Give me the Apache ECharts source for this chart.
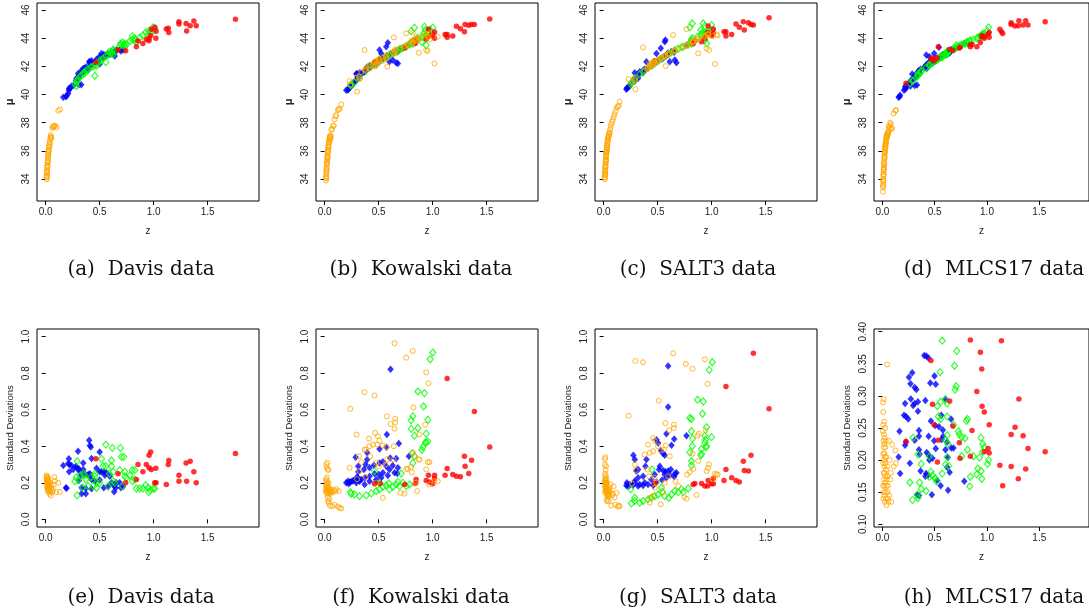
<!DOCTYPE html>
<html><head><meta charset="utf-8">
<script src="https://cdn.jsdelivr.net/npm/echarts@6/dist/echarts.min.js"></script>
<style>html,body{margin:0;padding:0;background:#fff;}#c{width:1089px;height:614px;}</style>
</head><body><div id="c"></div>
<script>
// ---------------- DATA ----------------
// Davis
const davisOrangeZ=[0.009,0.010,0.011,0.012,0.012,0.013,0.014,0.015,0.015,0.016,
0.017,0.018,0.019,0.020,0.021,0.022,0.023,0.024,0.025,0.026,
0.028,0.030,0.031,0.033,0.035,0.038,0.040,0.042,0.045,0.048,
0.050,0.053,0.062,0.068,0.074,0.080,0.086,0.100,0.117,0.132];
const davisOrangeMu=[33.98,34.10,34.25,34.17,34.40,34.55,34.50,34.64,34.80,34.95,
34.88,35.12,35.20,35.35,35.25,35.50,35.60,35.78,35.72,35.90,
36.06,36.00,36.25,36.41,36.30,36.65,36.50,36.80,36.95,37.12,
37.00,36.90,37.62,37.70,37.74,37.76,37.79,37.68,38.85,38.95];
const davisOrangeSd=[0.240,0.230,0.220,0.210,0.235,0.200,0.190,0.225,0.180,0.215,
0.170,0.205,0.195,0.160,0.185,0.225,0.175,0.150,0.210,0.165,
0.190,0.200,0.155,0.180,0.170,0.140,0.160,0.200,0.150,0.130,
0.185,0.170,0.150,0.160,0.190,0.231,0.209,0.149,0.200,0.150];

const davisBlueZ=[0.163,0.188,0.194,0.209,0.215,0.218,0.220,0.240,0.255,0.280,
0.286,0.300,0.308,0.310,0.310,0.330,0.332,0.332,0.348,0.348,
0.363,0.372,0.372,0.394,0.403,0.409,0.409,0.410,0.418,0.425,
0.425,0.425,0.455,0.471,0.500,0.500,0.500,0.517,0.538,0.538,
0.548,0.563,0.578,0.594,0.609,0.634,0.634,0.640,0.649,0.655,
0.686,0.697,0.717];
const davisBlueMu=[39.80,39.85,39.92,40.08,40.30,40.45,40.40,40.60,40.62,41.00,
41.15,41.50,40.70,41.35,41.20,40.70,41.55,41.70,41.85,41.60,
41.85,41.80,41.95,41.74,42.33,42.20,42.35,42.00,42.10,42.25,
42.15,42.40,42.30,42.50,42.17,42.55,42.70,42.92,42.85,42.60,
42.75,42.80,42.90,42.85,43.00,42.95,43.10,42.73,43.05,43.16,
43.20,43.10,43.16];
const davisBlueSd=[0.295,0.173,0.170,0.305,0.331,0.260,0.300,0.295,0.273,0.290,
0.285,0.373,0.213,0.276,0.264,0.240,0.173,0.140,0.273,0.309,
0.250,0.169,0.140,0.245,0.433,0.404,0.236,0.250,0.396,0.333,
0.218,0.167,0.209,0.280,0.369,0.260,0.215,0.260,0.260,0.173,
0.242,0.255,0.178,0.236,0.200,0.182,0.151,0.190,0.173,0.200,
0.200,0.173,0.180];

const davisGreenZ=[0.271,0.285,0.292,0.292,0.300,0.320,0.342,0.350,0.363,0.372,
0.394,0.420,0.440,0.455,0.455,0.471,0.471,0.500,0.517,0.532,
0.557,0.557,0.578,0.590,0.609,0.609,0.618,0.625,0.625,0.640,
0.686,0.692,0.702,0.711,0.723,0.732,0.732,0.748,0.780,0.803,
0.803,0.825,0.825,0.840,0.871,0.900,0.926,0.948,0.954,0.994,1.010,0.970];
const davisGreenMu=[40.75,40.60,40.90,41.00,41.10,41.30,41.40,41.55,41.50,41.70,
41.80,41.95,42.00,41.33,42.10,42.20,42.05,42.40,42.45,42.55,
42.30,42.75,42.80,43.05,42.90,43.00,43.10,43.20,42.85,43.10,
43.45,43.60,43.55,43.70,43.50,43.40,43.60,43.55,43.80,43.90,
44.15,43.85,44.00,43.70,44.05,44.20,44.41,44.30,44.50,44.77,44.70,44.35];
const davisGreenSd=[0.209,0.230,0.318,0.131,0.215,0.240,0.173,0.250,0.242,0.218,
0.182,0.230,0.182,0.236,0.250,0.200,0.173,0.200,0.331,0.291,
0.409,0.291,0.182,0.250,0.322,0.291,0.391,0.260,0.209,0.200,
0.269,0.391,0.342,0.182,0.342,0.260,0.236,0.227,0.240,0.269,
0.209,0.269,0.218,0.169,0.169,0.169,0.187,0.173,0.149,0.169,0.169,0.160];

const davisRedZ=[1.757,1.338,1.300,1.372,1.234,1.234,1.305,1.394,1.140,1.135,
1.117,1.020,1.022,1.010,0.972,0.957,0.932,0.957,0.978,0.900,
0.855,0.840,0.741,0.670,0.465];
const davisRedMu=[45.34,44.89,45.05,45.22,45.17,45.00,44.51,44.89,44.41,44.70,
44.65,43.99,44.50,44.77,44.20,43.99,43.90,43.82,44.63,43.63,
43.80,43.40,43.11,43.16,42.30];
const davisRedSd=[0.360,0.318,0.309,0.260,0.242,0.209,0.209,0.200,0.322,0.300,
0.191,0.280,0.200,0.200,0.369,0.351,0.300,0.282,0.273,0.260,
0.300,0.218,0.200,0.250,0.331];

// Kowalski
const kowOrangeZ=[0.012,0.013,0.014,0.015,0.015,0.016,0.017,0.018,0.019,0.020,
0.021,0.022,0.023,0.024,0.025,0.026,0.027,0.028,0.029,0.030,
0.031,0.032,0.034,0.035,0.037,0.038,0.040,0.042,0.044,0.046,
0.048,0.050,0.052,0.055,0.058,0.062,
0.070,0.077,0.085,0.092,0.100,0.108,0.123,0.130,0.139,0.154,
0.231,0.237,0.296,0.300,0.317,0.323,0.339,0.370,0.370,0.379,
0.385,0.410,0.416,0.422,0.447,0.462,0.468,0.478,0.478,0.487,
0.493,0.502,0.508,0.539,0.539,0.564,0.570,0.576,0.580,0.610,
0.638,0.640,0.647,0.647,0.653,0.653,0.702,0.740,0.755,0.755,
0.770,0.801,0.807,0.816,0.816,0.822,0.832,0.847,0.856,0.872,
0.877,0.877,0.930,0.940,0.940,0.955,0.961,0.970,0.970,1.017,1.047];
const kowOrangeMu=[33.90,34.10,34.20,34.35,34.05,34.50,34.60,34.80,34.70,35.00,
35.10,35.25,35.15,35.40,35.55,35.50,35.70,35.85,35.60,35.95,
36.10,36.00,36.30,36.40,36.25,36.50,36.70,36.60,36.85,36.90,
37.00,36.95,37.10,36.80,37.05,37.50,
37.55,37.76,37.80,38.24,38.45,38.55,38.90,38.95,39.00,39.30,
40.96,40.70,41.20,40.20,41.30,41.10,41.60,43.16,41.70,41.80,
41.90,42.00,41.85,42.10,42.05,42.30,42.00,42.20,42.40,42.15,
42.35,42.50,42.45,42.60,42.40,42.70,42.55,42.80,41.98,42.90,
43.00,44.06,43.10,42.90,43.20,43.05,43.30,43.40,44.34,43.50,
43.55,43.80,43.60,43.70,44.40,43.75,43.90,43.85,44.10,42.97,
44.00,43.95,44.20,43.16,44.30,43.10,44.10,44.35,43.90,42.21,44.10];
const kowOrangeSd=[0.150,0.220,0.180,0.160,0.300,0.210,0.170,0.190,0.285,0.200,
0.140,0.230,0.175,0.160,0.310,0.195,0.150,0.275,0.120,0.180,
0.165,0.100,0.270,0.145,0.200,0.090,0.155,0.165,0.110,0.150,
0.145,0.075,0.160,0.140,0.165,0.150,
0.072,0.150,0.160,0.080,0.155,0.165,0.070,0.155,0.062,0.060,
0.282,0.605,0.464,0.220,0.345,0.264,0.313,0.696,0.382,0.231,
0.382,0.442,0.400,0.345,0.409,0.678,0.473,0.309,0.200,0.409,
0.455,0.291,0.431,0.404,0.118,0.300,0.396,0.564,0.330,0.522,
0.327,0.400,0.964,0.496,0.551,0.531,0.145,0.140,0.885,0.276,
0.276,0.287,0.258,0.922,0.367,0.613,0.345,0.200,0.155,0.327,
0.465,0.327,0.518,0.805,0.273,0.313,0.745,0.313,0.191,0.209,0.209];

const kowBlueZ=[0.200,0.216,0.222,0.231,0.240,0.256,0.268,0.287,0.293,0.293,
0.299,0.308,0.311,0.311,0.323,0.323,0.339,0.363,0.370,0.373,
0.379,0.394,0.394,0.416,0.416,0.416,0.456,0.462,0.468,0.478,
0.502,0.508,0.508,0.524,0.539,0.539,0.570,0.573,0.576,0.585,
0.600,0.607,0.610,0.630,0.647,0.662,0.672,0.678,0.687,0.780];
const kowBlueMu=[40.30,40.32,40.40,40.51,40.55,40.67,40.85,41.00,41.03,41.45,
41.50,41.20,41.40,41.30,41.55,41.35,41.45,41.60,41.62,41.70,
41.75,41.85,41.95,41.90,42.05,42.00,42.10,42.20,42.25,42.15,
42.40,43.16,42.35,42.92,42.55,42.60,43.40,42.70,42.75,43.68,
42.33,42.85,42.90,42.45,43.00,42.26,43.05,42.21,43.20,43.55];
const kowBlueSd=[0.200,0.209,0.195,0.205,0.205,0.210,0.213,0.340,0.200,0.220,
0.230,0.227,0.291,0.260,0.209,0.215,0.218,0.273,0.191,0.227,
0.300,0.364,0.327,0.282,0.236,0.209,0.296,0.249,0.200,0.218,
0.245,0.385,0.309,0.227,0.315,0.255,0.291,0.395,0.464,0.240,
0.273,0.336,0.822,0.295,0.255,0.333,0.251,0.282,0.415,0.345];

const kowGreenZ=[0.240,0.246,0.277,0.323,0.385,0.431,0.462,0.478,0.508,0.508,
0.539,0.570,0.595,0.600,0.632,0.662,0.678,0.693,0.708,0.724,
0.755,0.786,0.801,0.801,0.810,0.816,0.816,0.832,0.832,0.863,
0.863,0.900,0.909,0.915,0.924,0.933,0.940,0.940,0.955,0.955,0.977,1.001];
const kowGreenMu=[40.65,40.72,40.85,41.20,41.70,42.00,42.15,42.30,42.40,42.50,
42.55,42.65,42.80,42.75,42.95,43.10,43.05,43.20,43.25,43.30,
43.40,43.55,44.50,43.65,43.70,43.60,43.80,44.75,43.85,43.90,
44.00,43.73,44.10,44.30,44.82,44.58,43.50,44.20,44.40,44.35,44.60,44.75];
const kowGreenSd=[0.149,0.140,0.136,0.127,0.131,0.142,0.264,0.155,0.164,0.200,
0.178,0.185,0.196,0.164,0.178,0.191,0.205,0.182,0.251,0.200,
0.182,0.191,0.542,0.495,0.360,0.564,0.309,0.345,0.458,0.700,
0.500,0.380,0.396,0.618,0.691,0.420,0.469,0.422,0.545,0.427,0.876,0.913];

const kowRedZ=[1.528,1.386,1.360,1.334,1.300,1.294,1.257,1.220,1.186,1.134,1.134,1.115,
1.017,1.017,1.000,0.970,0.961,0.940,0.847,0.838,0.740,0.514,0.462];
const kowRedMu=[45.36,44.98,44.98,44.92,44.98,44.46,44.67,44.85,44.15,44.27,44.06,44.27,
44.44,43.99,44.27,44.15,44.63,43.95,43.92,43.63,43.30,42.50,42.30];
const kowRedSd=[0.396,0.591,0.324,0.251,0.291,0.345,0.233,0.236,0.245,0.771,0.278,0.242,
0.242,0.224,0.195,0.204,0.242,0.213,0.218,0.196,0.190,0.196,0.195];

// SALT3
const saltOrangeZ=[0.010,0.011,0.012,0.012,0.013,0.014,0.014,0.015,0.016,0.016,
0.017,0.018,0.018,0.019,0.020,0.021,0.022,0.022,0.023,0.024,
0.025,0.026,0.027,0.028,0.029,0.030,0.031,0.032,0.033,0.034,
0.036,0.038,0.040,0.042,0.044,0.046,0.048,0.050,0.053,0.056,
0.060,0.065,0.070,0.078,0.085,0.092,0.100,0.110,0.120,0.130,0.140,0.148,
0.232,0.263,0.288,0.294,0.297,0.365,0.380,0.405,0.411,0.421,
0.427,0.427,0.427,0.458,0.458,0.458,0.473,0.473,0.473,0.489,
0.504,0.510,0.529,0.529,0.551,0.560,0.566,0.572,0.575,0.597,
0.606,0.612,0.643,0.650,0.650,0.665,0.690,0.745,0.761,0.767,
0.773,0.798,0.823,0.823,0.829,0.860,0.869,0.875,0.881,0.937,
0.943,0.953,0.962,0.968,0.975,1.008,1.030,1.046,1.055];
const saltOrangeMu=[34.00,34.15,34.30,34.10,34.45,34.60,34.35,34.70,34.85,34.55,
34.95,35.10,34.90,35.20,35.35,35.40,35.55,35.30,35.65,35.75,
35.85,35.90,36.05,36.10,35.95,36.25,36.35,36.20,36.45,36.55,
36.65,36.80,36.75,36.90,37.00,37.10,37.05,37.20,37.30,37.24,
37.50,37.70,37.90,38.05,38.20,38.40,38.60,38.80,39.05,39.15,39.20,39.49,
41.10,40.90,41.00,40.37,41.20,43.35,41.70,41.85,41.90,42.00,
42.05,42.20,41.95,42.15,42.30,42.10,42.25,42.40,42.20,42.35,
42.45,42.50,42.55,42.60,42.65,42.70,42.75,42.80,42.02,42.85,
42.90,42.95,44.22,43.05,43.10,43.15,43.25,43.40,43.45,44.65,
43.50,43.60,43.70,43.80,43.75,43.90,44.00,42.92,43.95,44.10,
44.20,43.28,44.25,44.30,43.16,44.15,42.17,44.27,44.20];
const saltOrangeSd=[0.210,0.330,0.180,0.250,0.300,0.200,0.150,0.230,0.340,0.190,
0.220,0.170,0.270,0.210,0.160,0.240,0.200,0.290,0.150,0.180,
0.190,0.140,0.220,0.100,0.165,0.175,0.130,0.200,0.110,0.155,
0.145,0.170,0.125,0.135,0.160,0.100,0.150,0.140,0.130,0.175,
0.150,0.190,0.075,0.130,0.140,0.180,0.120,0.080,0.145,0.070,0.075,0.072,
0.567,0.196,0.300,0.867,0.269,0.860,0.355,0.273,0.409,0.236,
0.364,0.091,0.118,0.445,0.373,0.127,0.431,0.227,0.173,0.200,
0.400,0.649,0.378,0.082,0.149,0.382,0.200,0.527,0.404,0.236,
0.487,0.345,0.909,0.518,0.500,0.209,0.182,0.122,0.851,0.113,
0.245,0.258,0.824,0.360,0.276,0.133,0.458,0.320,0.469,0.876,
0.487,0.264,0.742,0.282,0.300,0.218,0.250,0.245,0.245];

const saltBlueZ=[0.210,0.215,0.222,0.232,0.241,0.272,0.275,0.288,0.288,0.288,
0.303,0.319,0.319,0.319,0.334,0.365,0.365,0.380,0.387,0.396,
0.411,0.442,0.458,0.473,0.489,0.489,0.504,0.513,0.520,0.529,
0.541,0.551,0.551,0.566,0.566,0.572,0.581,0.581,0.597,0.597,
0.597,0.612,0.622,0.628,0.653,0.653,0.659,0.674,0.767];
const saltBlueMu=[40.37,40.45,40.50,40.55,40.60,40.90,41.05,41.03,41.55,40.95,
41.20,41.30,41.45,41.15,41.62,41.55,41.70,41.80,41.75,42.33,
41.90,42.05,42.10,42.25,42.92,42.30,42.40,42.45,42.50,43.28,
42.55,42.60,42.65,43.75,42.70,43.87,42.75,42.80,42.85,42.90,
42.95,42.33,43.00,43.05,43.10,43.00,42.45,42.26,43.50];
const saltBlueSd=[0.185,0.200,0.182,0.182,0.190,0.187,0.351,0.327,0.200,0.210,
0.264,0.273,0.227,0.182,0.190,0.236,0.185,0.200,0.291,0.327,
0.191,0.218,0.185,0.245,0.436,0.204,0.418,0.273,0.291,0.376,
0.215,0.360,0.267,0.351,0.245,0.260,0.469,0.227,0.840,0.615,
0.264,0.242,0.273,0.405,0.440,0.233,0.250,0.255,0.458];

const saltGreenZ=[0.250,0.257,0.288,0.288,0.334,0.365,0.411,0.442,0.448,0.473,
0.504,0.535,0.541,0.566,0.603,0.628,0.659,0.690,0.721,0.736,
0.783,0.798,0.798,0.813,0.813,0.813,0.813,0.820,0.823,0.869,
0.900,0.906,0.906,0.915,0.922,0.937,0.937,0.943,0.946,0.953,0.953,0.977,0.999,1.005];
const saltGreenMu=[40.75,40.86,41.15,41.00,41.45,41.60,41.90,42.05,42.15,42.25,
42.40,42.55,42.60,42.70,42.90,43.00,43.15,43.25,43.35,43.40,
43.55,44.77,43.65,43.70,43.80,43.90,43.60,45.05,44.00,44.10,
44.58,44.20,44.30,44.40,45.05,44.86,43.87,44.35,44.25,43.63,44.45,44.50,44.93,44.60];
const saltGreenSd=[0.164,0.087,0.100,0.118,0.091,0.100,0.109,0.118,0.273,0.127,
0.136,0.173,0.149,0.127,0.118,0.136,0.155,0.149,0.164,0.149,
0.169,0.555,0.367,0.549,0.482,0.318,0.295,0.400,0.442,0.655,
0.350,0.385,0.358,0.578,0.645,0.458,0.420,0.436,0.395,0.504,0.400,0.818,0.450,0.860];

const saltRedZ=[1.531,1.386,1.364,1.340,1.302,1.293,1.256,1.225,1.185,1.132,1.132,
1.114,1.015,1.015,0.999,0.968,0.962,0.937,0.906,0.844,0.829,0.473];
const saltRedMu=[45.46,44.93,44.98,45.10,44.58,45.17,44.77,45.00,44.27,44.15,44.46,
44.46,44.63,44.34,44.20,44.86,44.40,44.00,43.75,43.80,43.60,42.40];
const saltRedSd=[0.605,0.909,0.351,0.264,0.267,0.318,0.205,0.213,0.227,0.727,0.273,
0.213,0.224,0.195,0.195,0.213,0.182,0.182,0.196,0.196,0.191,0.196];

// MLCS17
const mlcsOrangeZ=[0.005,0.006,0.007,0.008,0.008,0.009,0.010,0.010,0.011,0.012,
0.012,0.013,0.014,0.015,0.015,0.016,0.017,0.018,0.018,0.019,
0.020,0.021,0.022,0.023,0.024,0.025,0.026,0.027,0.028,0.029,
0.030,0.031,0.032,0.034,0.035,0.036,0.038,0.040,0.042,0.044,
0.046,0.048,0.050,0.052,0.055,0.058,0.062,0.066,0.070,0.075,
0.080,0.085,0.093,0.108,0.124,0.130];
const mlcsOrangeMu=[33.10,33.40,33.60,33.80,33.50,34.00,34.20,33.90,34.35,34.50,
34.30,34.65,34.80,34.95,34.70,35.10,35.20,35.40,35.05,35.55,
35.65,35.80,35.50,35.95,36.05,36.15,35.90,36.30,36.40,36.20,
36.50,36.60,36.45,36.70,36.80,36.65,36.95,37.05,36.90,37.15,
37.00,37.20,37.10,37.30,37.25,37.40,37.70,37.80,37.60,38.00,
37.90,37.55,37.60,38.66,38.85,38.90];
const mlcsOrangeSd=[0.245,0.290,0.160,0.210,0.275,0.195,0.255,0.140,0.230,0.180,
0.295,0.220,0.150,0.240,0.200,0.170,0.260,0.190,0.225,0.145,
0.210,0.235,0.160,0.180,0.205,0.135,0.250,0.165,0.195,0.220,
0.175,0.150,0.230,0.140,0.185,0.205,0.160,0.130,0.170,0.190,
0.349,0.150,0.175,0.140,0.160,0.135,0.230,0.145,0.200,0.170,
0.180,0.135,0.224,0.190,0.215,0.195];

const mlcsBlueZ=[0.155,0.164,0.170,0.207,0.217,0.217,0.226,0.226,0.247,0.254,
0.263,0.269,0.272,0.285,0.294,0.309,0.309,0.309,0.325,0.331,
0.340,0.340,0.350,0.350,0.350,0.350,0.356,0.365,0.400,0.411,
0.411,0.418,0.420,0.424,0.433,0.440,0.442,0.442,0.449,0.458,
0.464,0.473,0.479,0.495,0.498,0.504,0.510,0.510,0.526,0.541,
0.557,0.563,0.566,0.578,0.581,0.603,0.603,0.619,0.619,0.625,
0.628,0.643,0.656,0.659,0.680,0.783];
const mlcsBlueMu=[39.80,39.85,39.95,40.30,40.40,40.55,40.45,40.60,40.75,40.80,
40.85,40.60,41.00,41.45,41.10,41.20,40.65,41.35,41.30,40.67,
41.62,41.40,41.50,41.60,41.45,41.70,41.55,41.80,41.90,41.95,
42.00,42.10,42.80,41.85,42.15,42.20,42.05,42.25,42.69,42.30,
42.40,42.35,42.20,42.92,42.45,42.50,42.55,42.40,42.60,43.35,
42.70,42.75,42.65,42.80,42.85,42.90,42.95,43.00,42.85,43.05,
43.10,42.95,43.20,43.15,43.25,43.65];
const mlcsBlueSd=[0.205,0.245,0.179,0.270,0.288,0.223,0.268,0.228,0.264,0.329,
0.195,0.319,0.295,0.336,0.285,0.313,0.288,0.231,0.310,0.146,
0.291,0.276,0.246,0.237,0.216,0.145,0.209,0.183,0.363,0.293,
0.175,0.179,0.362,0.212,0.176,0.359,0.237,0.208,0.200,0.320,
0.261,0.146,0.203,0.230,0.331,0.254,0.318,0.218,0.168,0.252,
0.160,0.270,0.232,0.247,0.237,0.295,0.216,0.228,0.189,0.204,
0.153,0.181,0.264,0.219,0.219,0.167];

const mlcsGreenZ=[0.263,0.288,0.294,0.334,0.340,0.340,0.356,0.371,0.371,0.418,
0.449,0.449,0.464,0.479,0.504,0.517,0.526,0.535,0.551,0.557,
0.557,0.572,0.572,0.603,0.603,0.603,0.619,0.619,0.619,0.619,
0.625,0.634,0.680,0.690,0.696,0.705,0.711,0.727,0.736,0.758,
0.758,0.789,0.804,0.813,0.813,0.835,0.841,0.869,0.903,0.912,
0.928,0.943,0.943,0.950,0.959,0.959,0.974,1.005,1.015];
const mlcsGreenMu=[40.80,40.95,41.00,41.30,41.35,41.45,41.50,41.60,41.70,41.90,
42.05,42.15,42.20,42.25,42.40,42.45,42.50,42.55,42.60,42.65,
42.70,42.75,42.65,42.85,42.90,42.80,42.95,43.00,42.90,43.05,
43.10,43.05,43.20,43.25,43.30,43.50,43.35,43.40,43.45,43.50,
43.55,43.60,43.70,43.75,43.65,43.80,43.85,43.90,44.00,44.05,
44.10,44.15,44.20,44.20,44.25,44.30,44.34,44.50,44.77];
const mlcsGreenSd=[0.165,0.138,0.235,0.146,0.141,0.209,0.165,0.194,0.155,0.152,
0.206,0.174,0.182,0.176,0.172,0.167,0.284,0.268,0.337,0.291,
0.264,0.386,0.179,0.294,0.231,0.193,0.288,0.268,0.239,0.205,
0.225,0.191,0.255,0.347,0.310,0.315,0.370,0.245,0.240,0.236,
0.206,0.234,0.261,0.264,0.216,0.159,0.174,0.206,0.178,0.187,
0.204,0.235,0.183,0.171,0.225,0.213,0.220,0.194,0.200];

const mlcsRedZ=[0.841,1.138,0.937,0.950,0.464,0.903,1.305,0.643,0.479,0.953,
0.974,1.268,1.021,1.231,1.345,0.495,0.674,0.857,0.535,0.226,
0.736,1.392,1.011,1.021,0.974,1.556,0.841,0.742,0.526,1.123,
1.231,1.370,1.299,1.150];
const mlcsRedMu=[43.40,44.46,43.70,44.10,42.50,43.40,45.24,43.20,42.60,44.20,
44.10,44.86,44.41,45.10,44.93,42.40,43.15,43.55,43.40,40.80,
43.30,44.93,44.30,44.06,44.00,45.17,43.55,43.35,42.60,44.63,
44.98,45.24,44.89,44.34];
const mlcsRedSd=[0.387,0.386,0.368,0.342,0.355,0.307,0.295,0.292,0.287,0.284,
0.275,0.251,0.255,0.240,0.238,0.255,0.253,0.246,0.231,0.229,
0.227,0.218,0.218,0.211,0.213,0.213,0.206,0.203,0.197,0.192,
0.190,0.186,0.171,0.160];

const xTicks=[0,0.5,1,1.5];
const xTickLabels=['0.0','0.5','1.0','1.5'];
const muTicks=[34,36,38,40,42,44,46];
const sdTicks=[0,0.2,0.4,0.6,0.8,1.0];
const sdTickLabels=['0.0','0.2','0.4','0.6','0.8','1.0'];
const sdTicksM=[0.10,0.15,0.20,0.25,0.30,0.35,0.40];
const sdTickLabelsM=['0.10','0.15','0.20','0.25','0.30','0.35','0.40'];
const captionsTop=['(a)  Davis data','(b)  Kowalski data','(c)  SALT3 data','(d)  MLCS17 data'];
const captionsBottom=['(e)  Davis data','(f)  Kowalski data','(g)  SALT3 data','(h)  MLCS17 data'];

// ---------------- BUILD ----------------
const pts=(z,v)=>z.map((x,i)=>[x,v[i]]);
const sets=[
 {o:[davisOrangeZ,davisOrangeMu,davisOrangeSd],b:[davisBlueZ,davisBlueMu,davisBlueSd],g:[davisGreenZ,davisGreenMu,davisGreenSd],r:[davisRedZ,davisRedMu,davisRedSd]},
 {o:[kowOrangeZ,kowOrangeMu,kowOrangeSd],b:[kowBlueZ,kowBlueMu,kowBlueSd],g:[kowGreenZ,kowGreenMu,kowGreenSd],r:[kowRedZ,kowRedMu,kowRedSd]},
 {o:[saltOrangeZ,saltOrangeMu,saltOrangeSd],b:[saltBlueZ,saltBlueMu,saltBlueSd],g:[saltGreenZ,saltGreenMu,saltGreenSd],r:[saltRedZ,saltRedMu,saltRedSd]},
 {o:[mlcsOrangeZ,mlcsOrangeMu,mlcsOrangeSd],b:[mlcsBlueZ,mlcsBlueMu,mlcsBlueSd],g:[mlcsGreenZ,mlcsGreenMu,mlcsGreenSd],r:[mlcsRedZ,mlcsRedMu,mlcsRedSd]}
];
const lefts=[37,316,595,874];
const capX=[141,421,698,994];
const GW=222, GH=198, topT=3, botT=329;
const style={
 b:{symbol:'diamond',symbolSize:[6.5,7.5],itemStyle:{color:'#0000FF'}},
 g:{symbol:'diamond',symbolSize:[6,7],itemStyle:{color:'rgba(0,0,0,0)',borderColor:'#00FF00',borderWidth:1.2}},
 r:{symbol:'circle',symbolSize:5.5,itemStyle:{color:'#FF0000'}},
 o:{symbol:'circle',symbolSize:5,itemStyle:{color:'rgba(0,0,0,0)',borderColor:'#FFA500',borderWidth:1}}
};
const font='"Liberation Sans", Arial, sans-serif';
const grids=[],xAxes=[],yAxes=[],series=[],graphics=[];
function addPanel(col,row){
  const idx=grids.length;
  grids.push({left:lefts[col],top:row===0?topT:botT,width:GW,height:GH,show:true,borderColor:'#000',borderWidth:1,backgroundColor:'transparent'});
  xAxes.push({gridIndex:idx,type:'value',min:-0.08,max:1.975,name:'z',nameLocation:'middle',nameGap:25,
    nameTextStyle:{fontFamily:font,fontSize:10,color:'#222'},
    axisLine:{show:false},splitLine:{show:false},
    axisTick:{show:true,length:4,customValues:xTicks,lineStyle:{color:'#000'}},
    axisLabel:{customValues:xTicks,formatter:v=>xTickLabels[xTicks.indexOf(v)]||'',fontFamily:font,fontSize:10,color:'#222',margin:6}});
  let yc;
  if(row===0){
    yc={min:32.44,max:46.5,ticks:muTicks,labels:muTicks.map(String),name:'μ'};
  } else if(col<3){
    yc={min:-0.042,max:1.042,ticks:sdTicks,labels:sdTickLabels,name:'Standard Deviations'};
  } else {
    yc={min:0.0958,max:0.4042,ticks:sdTicksM,labels:sdTickLabelsM,name:'Standard Deviations'};
  }
  yAxes.push({gridIndex:idx,type:'value',min:yc.min,max:yc.max,name:yc.name,nameLocation:'middle',nameGap:22,
    nameTextStyle:{fontFamily:font,fontSize:row===0?11:9.5,color:'#222',fontWeight:row===0?'bold':'normal'},
    axisLine:{show:false},splitLine:{show:false},
    axisTick:{show:true,length:4,customValues:yc.ticks,lineStyle:{color:'#000'}},
    axisLabel:{customValues:yc.ticks,rotate:90,formatter:v=>{const k=yc.ticks.findIndex(t=>Math.abs(t-v)<1e-9);return k>=0?yc.labels[k]:'';},fontFamily:font,fontSize:10,color:'#222',margin:6}});
  const s=sets[col];
  ['b','g','r','o'].forEach(k=>{
    const d=s[k];
    series.push(Object.assign({type:'scatter',xAxisIndex:idx,yAxisIndex:idx,silent:true,
      data:pts(d[0],row===0?d[1]:d[2])},JSON.parse(JSON.stringify(style[k]))));
  });
  const caps=row===0?captionsTop:captionsBottom;
  graphics.push({type:'text',left:capX[col],top:row===0?260:588,
    style:{text:caps[col],font:'20px "DejaVu Serif", serif',fill:'#111',textAlign:'center'}});
}
for(let r=0;r<2;r++)for(let c=0;c<4;c++)addPanel(c,r);

const chart=echarts.init(document.getElementById('c'),null,{renderer:'canvas'});
chart.setOption({animation:false,backgroundColor:'#fff',grid:grids,xAxis:xAxes,yAxis:yAxes,series:series,
  graphic:graphics.map(g=>({type:'text',x:g.left,y:g.top,style:g.style}))});
</script></body></html>
